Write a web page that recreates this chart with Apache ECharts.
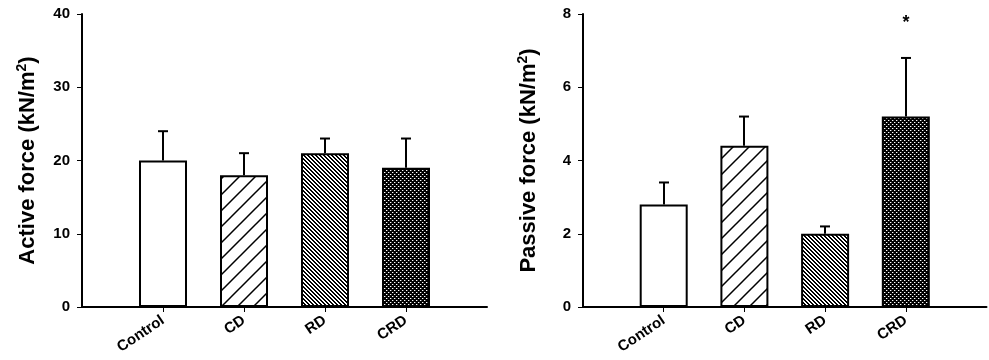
<!DOCTYPE html>
<html>
<head>
<meta charset="utf-8">
<script src="https://cdn.jsdelivr.net/npm/echarts@6/dist/echarts.min.js"></script>
<style>
html,body{margin:0;padding:0;background:#fff;}
#chart{width:989px;height:360px;}
</style>
</head>
<body>
<div id="chart"></div>
<script>
// ---- data ----
const categories = ['Control', 'CD', 'RD', 'CRD'];
const activeMean = [20, 18, 21, 19];
const activeErr  = [4, 3, 2, 4];
const passiveMean = [2.8, 4.4, 2.0, 5.2];
const passiveErr  = [0.6, 0.8, 0.2, 1.6];
const passiveSig  = ['', '', '', '*'];
const activeSig   = ['', '', '', ''];
const activeTicks = [0, 10, 20, 30, 40];
const passiveTicks = [0, 2, 4, 6, 8];

// ---- patterns ----
function makeTile(w, h, draw) {
  const c = document.createElement('canvas');
  c.width = w; c.height = h;
  const ctx = c.getContext('2d');
  draw(ctx, w, h);
  return c;
}
const tileWhite = makeTile(4, 4, (ctx, w, h) => { ctx.fillStyle = '#fff'; ctx.fillRect(0, 0, w, h); });
const tileFwd = makeTile(16, 16, (ctx, w, h) => {
  ctx.fillStyle = '#fff'; ctx.fillRect(0, 0, w, h);
  ctx.strokeStyle = '#000'; ctx.lineWidth = 1.5;
  ctx.beginPath();
  ctx.moveTo(-2, h + 2); ctx.lineTo(w + 2, -2);
  ctx.moveTo(-2, 2); ctx.lineTo(2, -2);
  ctx.moveTo(w - 2, h + 2); ctx.lineTo(w + 2, h - 2);
  ctx.stroke();
});
const tileBack = makeTile(4, 4, (ctx, w, h) => {
  ctx.fillStyle = '#fff'; ctx.fillRect(0, 0, w, h);
  ctx.fillStyle = '#000';
  for (let y = 0; y < h; y++) {
    for (let k = 0; k < 2; k++) {
      ctx.fillRect((y + k) % w, y, 1, 1);
    }
  }
});
const tileDots = makeTile(4, 4, (ctx, w, h) => {
  ctx.fillStyle = '#000'; ctx.fillRect(0, 0, w, h);
  ctx.fillStyle = '#fff';
  ctx.fillRect(0, 0, 1, 1);
  ctx.fillRect(2, 2, 1, 1);
  ctx.fillStyle = 'rgba(255,255,255,0.35)';
  ctx.fillRect(1, 0, 1, 1);
  ctx.fillRect(3, 2, 1, 1);
});
const fills = [tileWhite, tileFwd, tileBack, tileDots].map(t => ({ image: t, repeat: 'repeat' }));

// axis slots: one empty slot at each end
const slots = [''].concat(categories, ['']);
const FONT = '"Liberation Sans", Arial, sans-serif';

function grid(left) {
  return { left: left, top: 14, width: 405, height: 293, containLabel: false };
}
function xAxis(gi) {
  return {
    type: 'category', gridIndex: gi, data: slots, boundaryGap: false,
    axisLine: { lineStyle: { color: '#000', width: 2 } },
    axisTick: { show: true, length: 5, lineStyle: { color: '#000', width: 1 },
      interval: (i) => i > 0 && i < slots.length - 1 },
    axisLabel: { interval: 0, rotate: 34, margin: 12, color: '#000', fontWeight: 'bold',
      fontSize: 15, fontFamily: FONT },
    splitLine: { show: false }
  };
}
function yAxis(gi, ticks, title) {
  return {
    type: 'value', gridIndex: gi, min: ticks[0], max: ticks[ticks.length - 1],
    interval: ticks[1] - ticks[0],
    name: title, nameLocation: 'middle', nameGap: 41,
    nameTextStyle: { color: '#000', fontWeight: 'bold', fontSize: 22, fontFamily: FONT, lineHeight: 26,
      rich: { sup: { fontSize: 14, fontWeight: 'bold', fontFamily: FONT, color: '#000', verticalAlign: 'top', lineHeight: 14 } } },
    axisLine: { show: true, lineStyle: { color: '#000', width: 2 } },
    axisTick: { show: true, length: 5, lineStyle: { color: '#000', width: 1 } },
    axisLabel: { margin: 12, color: '#000', fontWeight: 'bold', fontSize: 15, fontFamily: FONT },
    splitLine: { show: false }
  };
}
function barSeries(gi, means) {
  return {
    type: 'bar', xAxisIndex: gi, yAxisIndex: gi, barWidth: 48, z: 2,
    data: slots.map((s, i) => {
      if (i === 0 || i === slots.length - 1) return null;
      return { value: means[i - 1], itemStyle: { color: fills[i - 1], borderColor: '#000', borderWidth: 2 } };
    })
  };
}
function errSeries(gi, means, errs, sig) {
  return {
    type: 'custom', xAxisIndex: gi, yAxisIndex: gi, z: 3,
    data: means.map((m, i) => [i + 1, m, m + errs[i], sig[i]]),
    renderItem: function (params, api) {
      const base = api.coord([api.value(0), api.value(1)]);
      const top = api.coord([api.value(0), api.value(2)]);
      const x = Math.round(base[0]);
      const children = [
        { type: 'line', shape: { x1: x, y1: base[1], x2: x, y2: top[1] }, style: { stroke: '#000', lineWidth: 2 } },
        { type: 'line', shape: { x1: x - 5, y1: top[1], x2: x + 5, y2: top[1] }, style: { stroke: '#000', lineWidth: 2 } }
      ];
      const s = sig[params.dataIndex];
      if (s) {
        children.push({ type: 'text', style: { text: s, x: x, y: top[1] - 35, textAlign: 'center', textVerticalAlign: 'middle',
          font: 'bold 18px ' + FONT, fill: '#000' } });
      }
      return { type: 'group', children: children };
    }
  };
}

const chart = echarts.init(document.getElementById('chart'), null, { renderer: 'canvas' });
chart.setOption({
  animation: false,
  backgroundColor: '#fff',
  grid: [grid(82), grid(583)],
  xAxis: [xAxis(0), xAxis(1)],
  yAxis: [yAxis(0, activeTicks, 'Active force (kN/m{sup|2})'), yAxis(1, passiveTicks, 'Passive force (kN/m{sup|2})')],
  series: [
    barSeries(0, activeMean), errSeries(0, activeMean, activeErr, activeSig),
    barSeries(1, passiveMean), errSeries(1, passiveMean, passiveErr, passiveSig)
  ]
});
</script>
</body>
</html>
